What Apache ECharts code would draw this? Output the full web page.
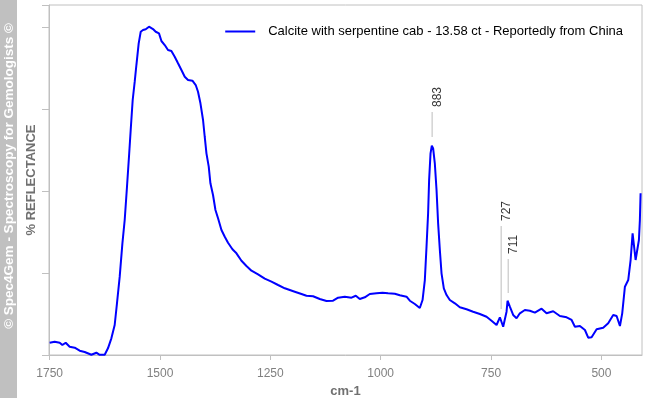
<!DOCTYPE html>
<html lang="en">
  <head>
    <meta charset="UTF-8" />
    <title>Calcite with serpentine - reflectance</title>
    <script src="https://cdn.jsdelivr.net/npm/echarts@6.0.0/dist/echarts.min.js"></script>
  </head>
  <body style="margin: 0">
    <div id="main" style="width: 645px; height: 398px"></div>
    <script type="text/javascript">
      // wavenumbers (cm-1)
      const wavenumbers = [
        1750, 1738.7, 1727.3, 1721.2, 1713.7, 1704.7, 1693.3, 1682, 1670.7, 1655.5,
        1644.2, 1636.7, 1625.3, 1617.9, 1610.2, 1602.7, 1597.5, 1591.3, 1585.2, 1580,
        1574.8, 1570.3, 1566.4, 1561.9, 1557.3, 1553.5, 1548.3, 1543.7, 1538.5, 1532.4,
        1524.9, 1515.9, 1509.7, 1502.3, 1496.8, 1489.3, 1481.9, 1474.2, 1466.7, 1459.2,
        1451.5, 1444, 1436.5, 1426.6, 1419.1, 1413.9, 1408.4, 1402.5, 1398.7, 1394.8,
        1389.6, 1385.8, 1379.9, 1374.4, 1368.5, 1360.8, 1353.3, 1345.9, 1335.9, 1326.8,
        1315.5, 1304.2, 1292.8, 1277.9, 1262.7, 1247.5, 1232.5, 1217.3, 1194.7, 1179.5,
        1168.2, 1153.2, 1138, 1122.8, 1107.9, 1096.5, 1081.3, 1066.2, 1056.4, 1047.4,
        1036, 1024.7, 1009.5, 995.9, 983.2, 968, 956.7, 941.5, 934, 922.7,
        911.4, 905.2, 900, 896.2, 892.6, 890.3, 887.1, 884.2, 881.2, 877.4,
        873.5, 869.9, 866, 862.2, 857, 850.8, 843.4, 832, 820.7, 805.5,
        790.6, 775.4, 760.2, 748.9, 737.5, 730, 726.2, 722.5, 718.7, 714.9,
        712.6, 707.4, 699.9, 692.2, 684.7, 673.4, 662, 650.7, 635.5, 624.2,
        609.2, 594, 578.8, 567.5, 560, 548.7, 537.3, 529.9, 522.2, 510.8,
        495.9, 484.6, 473.2, 465.5, 458, 452.8, 446.7, 439.2, 433.8, 429.3,
        425.6, 422.5, 418.9, 415, 412.8, 411.2
      ];

      // reflectance (arbitrary %, axis has no labels)
      const reflectance = [
        3.0, 3.24, 3.0, 2.44, 3.0, 2.02, 1.78, 1.05, 0.73, 0.05,
        0.56, 0.05, 0.07, 1.63, 4.07, 7.32, 12.61, 19.1, 27.24, 32.93,
        41.05, 48.37, 54.88, 62.2, 66.66, 70.73, 76.02, 78.85, 79.27, 79.44,
        80.07, 79.51, 78.85, 78.46, 76.59, 75.61, 74.39, 74.15, 72.76, 71.15,
        69.51, 67.88, 67.07, 66.9, 65.85, 64.22, 61.39, 57.32, 53.24, 49.19,
        45.93, 41.88, 39.02, 35.37, 33.34, 30.49, 28.85, 27.39, 25.78, 24.8,
        23.0, 21.71, 20.56, 19.68, 18.61, 17.88, 17.07, 16.27, 15.44, 14.88,
        14.46, 14.32, 13.66, 13.17, 13.24, 13.98, 14.22, 13.98, 14.46, 13.66,
        14.07, 14.88, 15.05, 15.19, 15.05, 14.95, 14.56, 14.22, 13.24, 12.44,
        11.46, 13.41, 18.29, 26.41, 34.56, 42.68, 49.19, 51.05, 50.41, 46.76,
        40.24, 32.12, 25.61, 19.93, 16.27, 14.63, 13.41, 12.61, 11.63, 11.15,
        10.56, 10.0, 9.34, 8.37, 7.32, 9.2, 9.34, 6.9, 7.07, 10.56,
        13.24, 11.78, 9.76, 8.95, 10.17, 10.98, 10.8, 10.32, 11.29, 10.17,
        10.66, 9.51, 9.2, 8.54, 6.9, 7.07, 6.1, 4.22, 4.32, 6.27,
        6.66, 7.73, 9.76, 9.51, 7.07, 10.17, 16.66, 18.29, 23.17, 29.68,
        29.83, 23.17, 23.17, 28.05, 32.93, 39.44
      ];

      // peak annotations: position, line top / bottom
      const peakLabels = ["883", "727", "711"];
      const peakPos = [883.5, 727.1, 711.2];
      const peakLineTop = [59.27, 31.46, 23.41];
      const peakLineBottom = [53.17, 11.22, 15.12];

      const xTicks = [1750, 1500, 1250, 1000, 750, 500];

      const seriesName = "Calcite with serpentine cab - 13.58 ct - Reportedly from China";

      let myChart = echarts.init(document.getElementById("main"));

      const spectrum = wavenumbers.map((w, i) => [w, reflectance[i]]);

      const peakSeries = peakPos.map((p, i) => ({
        type: "line",
        silent: true,
        symbol: "none",
        lineStyle: { color: "#bdbdbd", width: 1 },
        data: [
          [p, peakLineBottom[i]],
          [p, peakLineTop[i]],
        ],
        z: 1,
      }));

      let options = {
        animation: false,
        grid: {
          left: 49,
          right: 3,
          top: 5,
          bottom: 43,
          outerBoundsMode: "none",
          show: true,
          borderColor: "#c0c0c0",
          borderWidth: 1,
        },
        graphic: [
          {
            type: "rect",
            left: 0,
            top: 0,
            shape: { width: 17, height: 398 },
            style: { fill: "#c0c0c0" },
          },
          {
            type: "text",
            x: 9,
            y: 176,
            rotation: Math.PI / 2,
            style: {
              text: "© Spec4Gem - Spectroscopy for Gemologists ©",
              fill: "#ffffff",
              font: "bold 13.5px 'Liberation Sans', Arial, sans-serif",
              align: "center",
              verticalAlign: "middle",
            },
          },
        ],
        legend: {
          data: [{ name: seriesName, icon: "rect" }],
          right: 17,
          top: 20,
          itemWidth: 30,
          itemHeight: 2,
          itemStyle: { color: "#0000ff" },
          textStyle: {
            color: "#000",
            fontSize: 13,
            fontFamily: "'Liberation Sans', Arial, sans-serif",
            padding: [0, 0, 0, 8],
          },
        },
        xAxis: {
          type: "value",
          inverse: true,
          min: 408,
          max: 1751.5,
          name: "cm-1",
          nameLocation: "middle",
          nameGap: 28,
          nameTextStyle: {
            color: "#707070",
            fontWeight: "bold",
            fontSize: 13,
            fontFamily: "'Liberation Sans', Arial, sans-serif",
          },
          splitLine: { show: false },
          axisLine: { lineStyle: { color: "#c0c0c0" } },
          axisTick: {
            customValues: xTicks,
            length: 5,
            lineStyle: { color: "#c0c0c0" },
          },
          axisLabel: {
            customValues: xTicks,
            margin: 13,
            color: "#808080",
            fontSize: 12,
            fontFamily: "'Liberation Sans', Arial, sans-serif",
            formatter: (v) => String(v),
          },
        },
        yAxis: {
          type: "value",
          min: 0,
          max: 85.37,
          interval: 20,
          name: "% REFLECTANCE",
          nameLocation: "middle",
          nameGap: 11,
          nameTextStyle: {
            color: "#707070",
            fontWeight: "bold",
            fontSize: 13,
            fontFamily: "'Liberation Sans', Arial, sans-serif",
          },
          splitLine: { show: false },
          axisLine: { show: true, lineStyle: { color: "#c0c0c0" } },
          axisTick: { show: true, length: 7, lineStyle: { color: "#c0c0c0" } },
          axisLabel: { show: false },
        },
        series: [
          {
            name: seriesName,
            type: "line",
            data: spectrum,
            symbol: "none",
            lineStyle: { color: "#0000ff", width: 2 },
            itemStyle: { color: "#0000ff" },
            z: 3,
          },
          ...peakSeries,
          {
            type: "scatter",
            silent: true,
            symbolSize: 0,
            data: peakPos.map((p, i) => [p, peakLineTop[i]]),
            label: {
              show: true,
              position: "top",
              distance: 5,
              rotate: 90,
              align: "left",
              verticalAlign: "top",
              color: "#000",
              fontSize: 12,
              fontFamily: "'Liberation Sans', Arial, sans-serif",
              formatter: (p) => peakLabels[p.dataIndex],
            },
          },
        ],
      };

      myChart.setOption(options);
    </script>
  </body>
</html>
